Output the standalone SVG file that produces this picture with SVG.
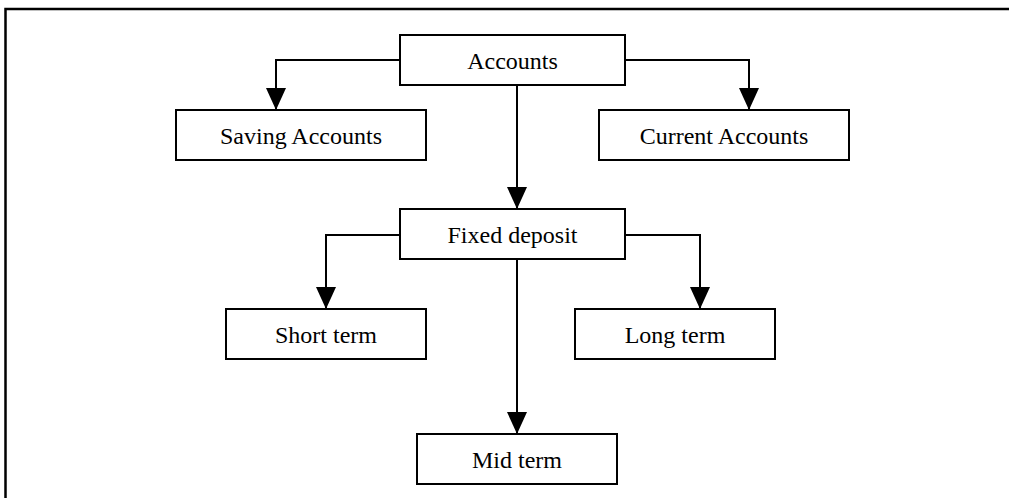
<svg xmlns="http://www.w3.org/2000/svg" width="1009" height="498" viewBox="0 0 1009 498">
<defs>
<style>
.box{fill:#fff;stroke:#000;stroke-width:2}
.lbl{font-family:"Liberation Serif","Times New Roman",serif;font-size:24px;fill:#000;text-anchor:middle}
.con{fill:none;stroke:#000;stroke-width:2;marker-end:url(#arr)}
.frame{fill:none;stroke:#000;stroke-width:2.5}
</style>
<marker id="arr" markerWidth="22" markerHeight="20" refX="22" refY="10" orient="auto" markerUnits="userSpaceOnUse" viewBox="0 0 22 20">
<path d="M0,0 L22,10 L0,20 Z" fill="#000"/>
</marker>
</defs>
<rect width="1009" height="498" fill="#fff"/>
<path class="frame" d="M5.5,498 V9 H1009"/>
<g id="connectors">
<path class="con" d="M400,60 H276 V110"/>
<path class="con" d="M625,60 H749 V110"/>
<path class="con" d="M517,85 V209"/>
<path class="con" d="M400,235 H326 V309"/>
<path class="con" d="M625,235 H700 V309"/>
<path class="con" d="M517,259 V434"/>
</g>
<g id="accounts"><rect class="box" x="400" y="35" width="225" height="50"/><text class="lbl" x="512.5" y="69">Accounts</text></g>
<g id="saving"><rect class="box" x="176" y="110" width="250" height="50"/><text class="lbl" x="301" y="144">Saving Accounts</text></g>
<g id="current"><rect class="box" x="599" y="110" width="250" height="50"/><text class="lbl" x="724" y="144">Current Accounts</text></g>
<g id="fixed"><rect class="box" x="400" y="209" width="225" height="50"/><text class="lbl" x="512.5" y="243">Fixed deposit</text></g>
<g id="short"><rect class="box" x="226" y="309" width="200" height="50"/><text class="lbl" x="326" y="343">Short term</text></g>
<g id="long"><rect class="box" x="575" y="309" width="200" height="50"/><text class="lbl" x="675" y="343">Long term</text></g>
<g id="mid"><rect class="box" x="417" y="434" width="200" height="50"/><text class="lbl" x="517" y="468">Mid term</text></g>
</svg>
